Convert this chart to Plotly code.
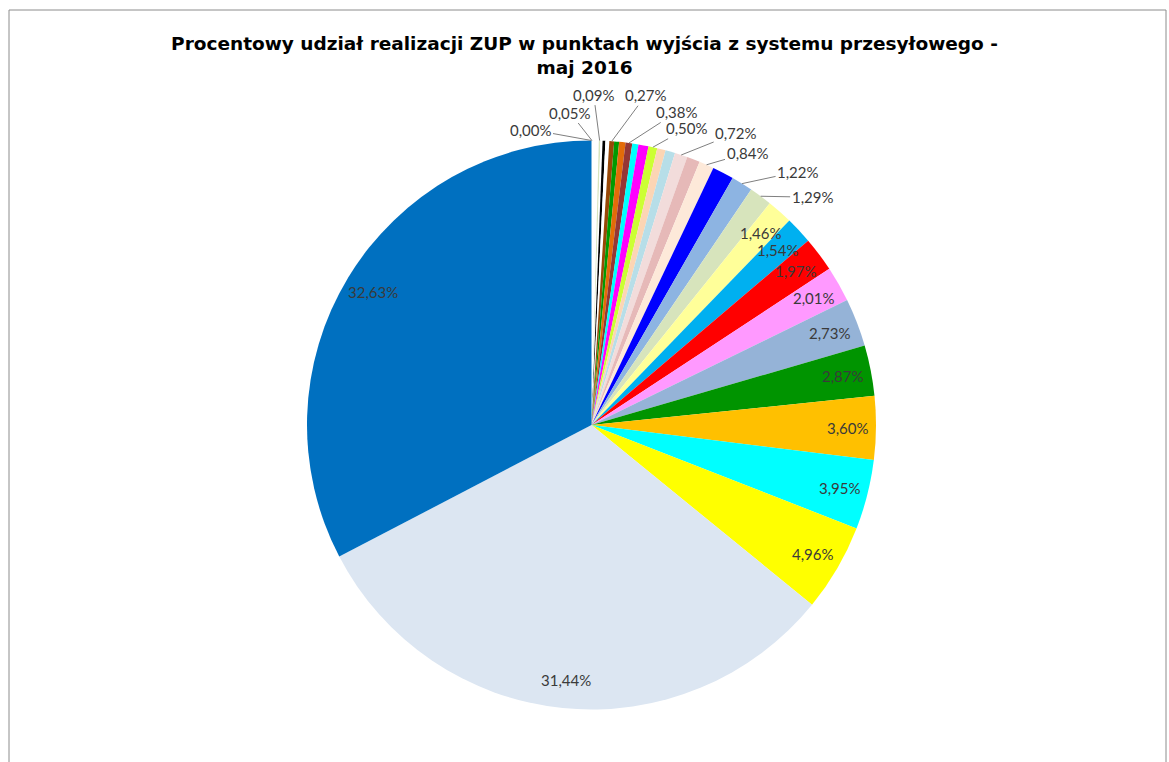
import math
import plotly.graph_objects as go

W, H = 1169, 762

# Exit-point shares of ZUP realisation, May 2016 (percent), clockwise from 12 o'clock
slice_ids = [f"P{i:02d}" for i in range(1, 34)]
shares = [0.00, 0.05, 0.36, 0.09, 0.12, 0.16, 0.22, 0.27, 0.28, 0.36,
          0.38, 0.35, 0.57, 0.50, 0.48, 0.55, 0.72, 0.74, 0.84, 1.22,
          1.22, 1.29, 1.46, 1.54, 1.97, 2.01, 2.73, 2.87, 3.60, 3.95,
          4.96, 31.44, 32.63]
# which slices carry a data label
labelled = [1, 1, 0, 1, 0, 0, 0, 1, 0, 0,
            1, 0, 0, 1, 0, 0, 1, 0, 1, 0,
            1, 1, 1, 1, 1, 1, 1, 1, 1, 1,
            1, 1, 1]

slice_colors = ["#D4B8DC", "#FFFFFF", "#FFFFFF", "#D7E4BD", "#FFFFFF", "#000000",
                "#FFFFFF", "#984807", "#009A00", "#E36C09", "#953735", "#00FFFF",
                "#FF00FF", "#CCFF33", "#FCD5B4", "#B7DEE8", "#F2DCDB", "#E6B9B8",
                "#FDE9D9", "#0000FF", "#8DB4E2", "#D7E4BC", "#FFFF99", "#00B0F0",
                "#FF0000", "#FF99FF", "#95B3D7", "#009400", "#FFC000", "#00FFFF",
                "#FFFF00", "#DCE6F2", "#0070C0"]

title_text = ("Procentowy udział realizacji ZUP w punktach wyjścia z systemu przesyłowego -"
              "<br>maj 2016")

# pie geometry in pixels
CX, CY, R = 591.5, 425.0, 284.5

# pixel offsets (label centre minus rim anchor) for the labels set outside the pie
outside_offsets = {0: (-61, -11), 1: (-22, -28), 3: (-6, -46), 7: (34, -46),
                   10: (48, -31), 13: (34, -19), 16: (55, -22), 18: (41, -12),
                   20: (56, -12), 21: (52, 1)}
INSIDE_FRAC = 0.9

label_font = dict(family="Lato, 'DejaVu Sans', sans-serif", size=15, color="#3a3a3a")


def fmt(v):
    return f"{v:.2f}".replace(".", ",") + "%"


def to_paper(x, y):
    return x / W, 1 - y / H


fig = go.Figure(go.Pie(
    labels=slice_ids,
    values=shares,
    sort=False,
    direction="clockwise",
    rotation=0,
    marker=dict(colors=slice_colors, line=dict(width=0)),
    textinfo="none",
    hoverinfo="label+value",
    showlegend=False,
    domain=dict(x=[(CX - R) / W, (CX + R) / W],
                y=[1 - (CY + R) / H, 1 - (CY - R) / H]),
))

total = sum(shares)
annotations = []
cum = 0.0
for i, v in enumerate(shares):
    mid = cum + v / 2
    cum += v
    if not labelled[i]:
        continue
    theta = 2 * math.pi * mid / total
    s, c = math.sin(theta), math.cos(theta)
    if i in outside_offsets:
        px, py = to_paper(CX + R * s, CY - R * c)
        dx, dy = outside_offsets[i]
        annotations.append(dict(
            x=px, y=py, xref="paper", yref="paper", text=fmt(v),
            showarrow=True, arrowhead=0, arrowwidth=1, arrowcolor="#7f7f7f",
            ax=dx, ay=dy, standoff=0, startstandoff=0, font=label_font,
        ))
    else:
        px, py = to_paper(CX + INSIDE_FRAC * R * s, CY - INSIDE_FRAC * R * c)
        annotations.append(dict(
            x=px, y=py, xref="paper", yref="paper", text=fmt(v),
            showarrow=False, font=label_font, xanchor="center", yanchor="middle",
        ))

fig.update_layout(
    width=W, height=H,
    margin=dict(l=0, r=0, t=0, b=0, pad=0),
    paper_bgcolor="white",
    plot_bgcolor="white",
    title=dict(text=title_text, x=0.5, xanchor="center", xref="paper",
               y=1 - 50 / H, yref="container", yanchor="top",
               font=dict(family="'DejaVu Sans', sans-serif", size=18.5,
                         color="#000000", weight="bold")),
    annotations=annotations,
    shapes=[dict(type="rect", xref="paper", yref="paper",
                 x0=9 / W, x1=1166 / W, y0=-0.05, y1=1 - 10 / H,
                 line=dict(color="#8c8c8c", width=1), fillcolor="rgba(0,0,0,0)",
                 layer="below")],
)

fig.write_html("out.html")
